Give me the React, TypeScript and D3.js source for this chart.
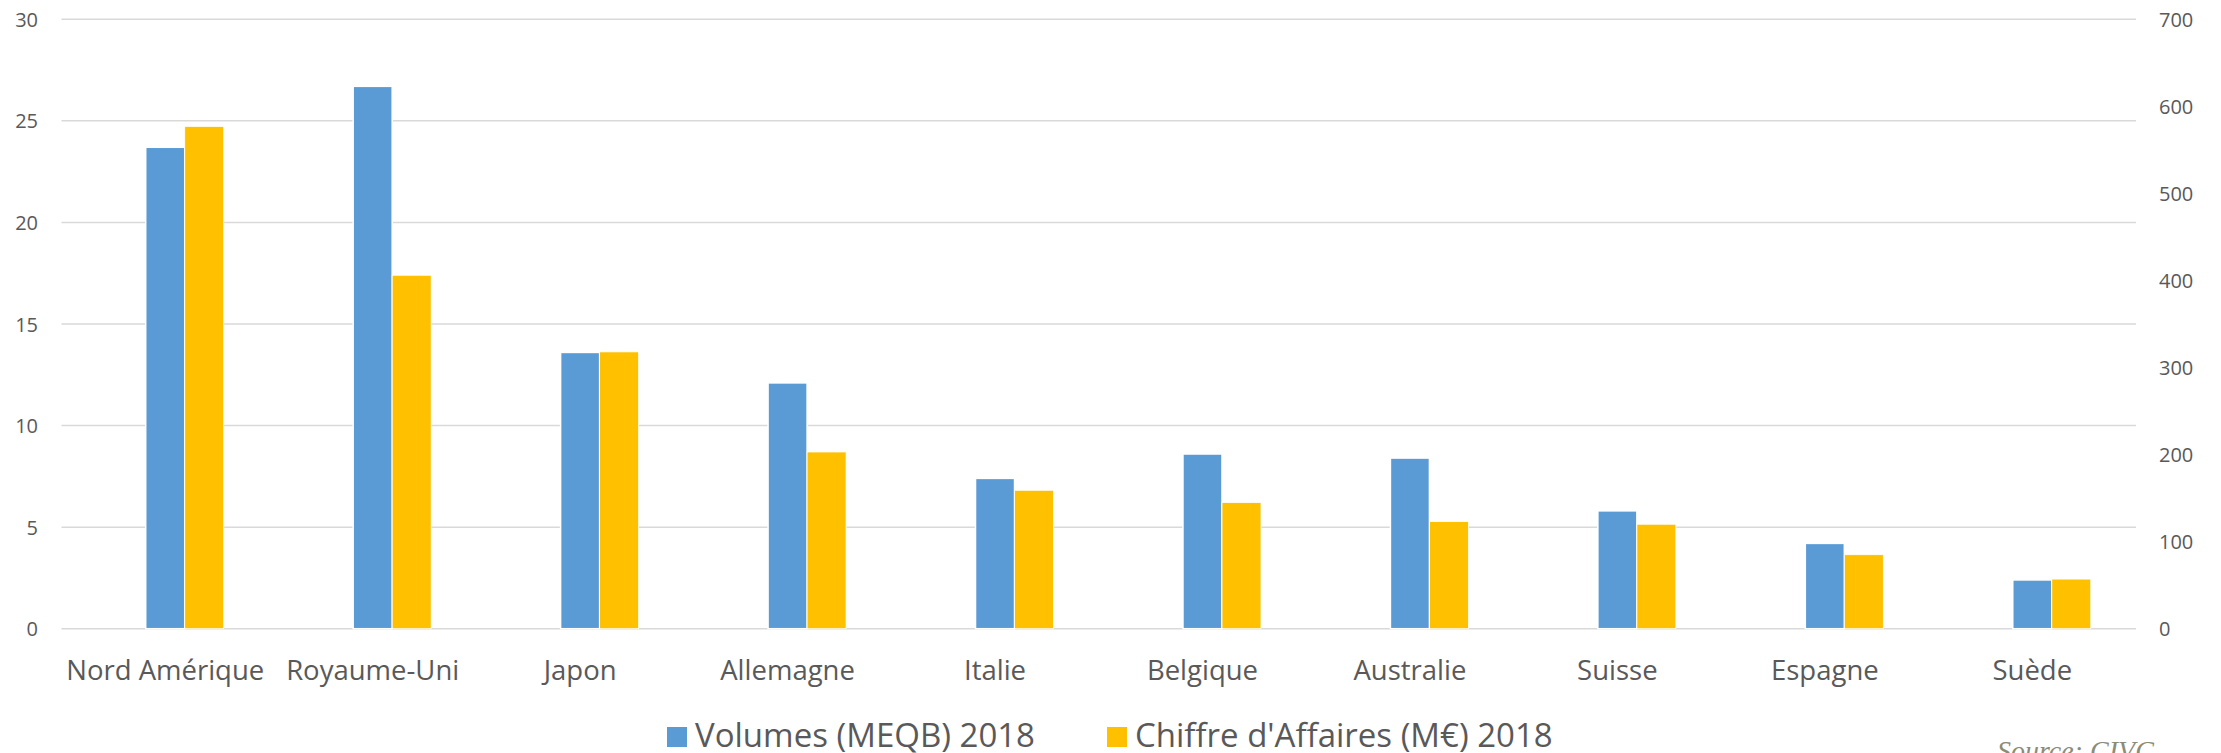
import * as d3 from 'd3';

const categories = [
  'Nord Amérique',
  'Royaume-Uni',
  'Japon',
  'Allemagne',
  'Italie',
  'Belgique',
  'Australie',
  'Suisse',
  'Espagne',
  'Suède',
];
// volumes, millions of bottles (left axis)
const volumes = [23.7, 26.7, 13.6, 12.1, 7.4, 8.6, 8.4, 5.8, 4.2, 2.4];
// turnover, M€ (right axis)
const chiffre = [577, 406, 318, 203, 159, 145, 123, 120, 85, 57];
const leftTicks = [0, 5, 10, 15, 20, 25, 30];
const rightTicks = [0, 100, 200, 300, 400, 500, 600, 700];
const seriesNames = ['Volumes (MEQB) 2018', "Chiffre d'Affaires (M€) 2018"];

const W = 2221;
const H = 753;
const left = 61.5;
const right = 2136;
const top = 19.3;
const bottom = 628.7;
const BLUE = '#5b9bd5';
const YELLOW = '#ffc000';
const TEXT = '#595959';
const FONT = '"Open Sans", sans-serif';

export default function App() {
  const x0 = d3
    .scaleBand<string>()
    .domain(categories)
    .range([left, right])
    .paddingInner(0.436)
    .paddingOuter(0.218);
  // Excel trick: an empty slot, then the two series side by side
  const x1 = d3
    .scaleBand<string>()
    .domain(['empty', 'vol', 'ca'])
    .range([0, x0.bandwidth()]);
  const yL = d3.scaleLinear().domain([0, 30]).range([bottom, top]);
  const yR = d3.scaleLinear().domain([0, 700]).range([bottom, top]);

  return (
    <svg
      width={W}
      height={H}
      style={{ position: 'absolute', left: 0, top: 0, background: '#fff' }}
    >
      <rect width={W} height={H} fill="#fff" />
      {leftTicks.map((t) => (
        <g key={'l' + t}>
          <line
            x1={left}
            x2={right}
            y1={yL(t)}
            y2={yL(t)}
            stroke="#d9d9d9"
            strokeWidth={1.5}
          />
          <text
            x={38}
            y={yL(t)}
            textAnchor="end"
            dominantBaseline="central"
            fontFamily={FONT}
            fontSize={20}
            fill={TEXT}
          >
            {t}
          </text>
        </g>
      ))}
      {rightTicks.map((t) => (
        <text
          key={'r' + t}
          x={2159}
          y={yR(t)}
          dominantBaseline="central"
          fontFamily={FONT}
          fontSize={20}
          fill={TEXT}
        >
          {t}
        </text>
      ))}
      {categories.map((c, i) => {
        const bx = x0(c)!;
        return (
          <g key={c}>
            <rect
              x={bx + x1('vol')!}
              y={yL(volumes[i])}
              width={x1.bandwidth()}
              height={yL(0) - yL(volumes[i])}
              fill={BLUE}
              stroke="#fff"
              strokeWidth={1.5}
            />
            <rect
              x={bx + x1('ca')!}
              y={yR(chiffre[i])}
              width={x1.bandwidth()}
              height={yR(0) - yR(chiffre[i])}
              fill={YELLOW}
              stroke="#fff"
              strokeWidth={0.8}
            />
            <text
              x={bx + x0.bandwidth() / 2}
              y={680}
              textAnchor="middle"
              fontFamily={FONT}
              fontSize={27.5}
              fill={TEXT}
            >
              {c}
            </text>
          </g>
        );
      })}
      <g>
        <rect x={667} y={727} width={20} height={20} fill={BLUE} />
        <text x={695} y={747} fontFamily={FONT} fontSize={33} fill={TEXT}>
          {seriesNames[0]}
        </text>
        <rect x={1107} y={727} width={20} height={20} fill={YELLOW} />
        <text x={1135} y={747} fontFamily={FONT} fontSize={33} fill={TEXT}>
          {seriesNames[1]}
        </text>
      </g>
      <text
        x={1997}
        y={760}
        fontFamily='"Liberation Serif", serif'
        fontStyle="italic"
        fontSize={28}
        fill="#8c8b78"
      >
        Source: CIVC
      </text>
    </svg>
  );
}
